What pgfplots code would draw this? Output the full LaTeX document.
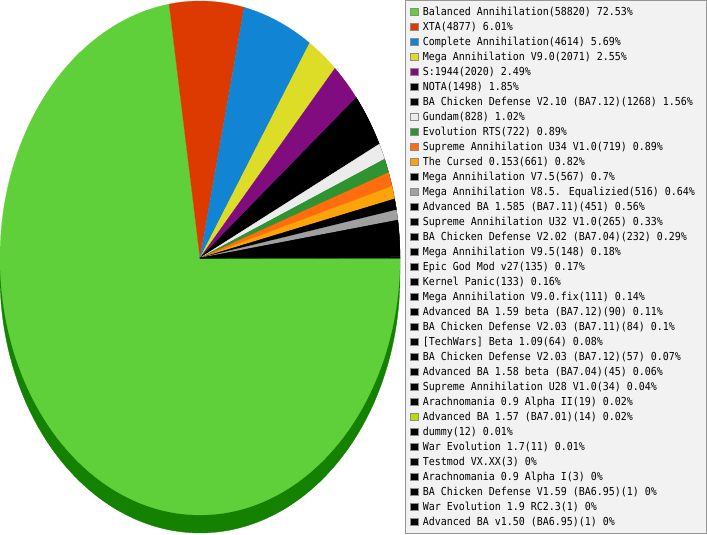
\documentclass[border=0pt]{standalone}
\usepackage{pgfplots}
\usepackage{pgfplotstable}
\pgfplotsset{compat=1.18}
\usepackage{fontspec}
\newfontfamily\legfont[FakeStretch=0.906]{DejaVu Sans Mono}

\definecolor{cGreen}{RGB}{96,208,58}
\definecolor{cRed}{RGB}{220,58,0}
\definecolor{cBlue}{RGB}{17,133,212}
\definecolor{cYellow}{RGB}{221,221,39}
\definecolor{cPurple}{RGB}{128,12,128}
\definecolor{cBlack}{RGB}{0,0,0}
\definecolor{cWhite}{RGB}{236,236,236}
\definecolor{cDGreen}{RGB}{46,148,49}
\definecolor{cOrange}{RGB}{255,109,15}
\definecolor{cAmber}{RGB}{251,163,10}
\definecolor{cGray}{RGB}{160,160,160}
\definecolor{cLime}{RGB}{180,224,0}
\definecolor{rim}{RGB}{20,130,0}
\definecolor{legbg}{RGB}{242,242,242}
\definecolor{legborder}{RGB}{150,150,150}

\pgfplotstableread[col sep=semicolon,row sep=\\]{
name;count;pct;col\\
Balanced Annihilation;58820;72.53;cGreen\\
XTA;4877;6.01;cRed\\
Complete Annihilation;4614;5.69;cBlue\\
Mega Annihilation V9.0;2071;2.55;cYellow\\
S:1944;2020;2.49;cPurple\\
NOTA;1498;1.85;cBlack\\
BA Chicken Defense V2.10 (BA7.12);1268;1.56;cBlack\\
Gundam;828;1.02;cWhite\\
Evolution RTS;722;0.89;cDGreen\\
Supreme Annihilation U34 V1.0;719;0.89;cOrange\\
The Cursed 0.153;661;0.82;cAmber\\
Mega Annihilation V7.5;567;0.7;cBlack\\
Mega Annihilation V8.5. Equalizied;516;0.64;cGray\\
Advanced BA 1.585 (BA7.11);451;0.56;cBlack\\
Supreme Annihilation U32 V1.0;265;0.33;cBlack\\
BA Chicken Defense V2.02 (BA7.04);232;0.29;cBlack\\
Mega Annihilation V9.5;148;0.18;cBlack\\
Epic God Mod v27;135;0.17;cBlack\\
Kernel Panic;133;0.16;cBlack\\
Mega Annihilation V9.0.fix;111;0.14;cBlack\\
Advanced BA 1.59 beta (BA7.12);90;0.11;cBlack\\
BA Chicken Defense V2.03 (BA7.11);84;0.1;cBlack\\
[TechWars] Beta 1.09;64;0.08;cBlack\\
BA Chicken Defense V2.03 (BA7.12);57;0.07;cBlack\\
Advanced BA 1.58 beta (BA7.04);45;0.06;cBlack\\
Supreme Annihilation U28 V1.0;34;0.04;cBlack\\
Arachnomania 0.9 Alpha II;19;0.02;cBlack\\
Advanced BA 1.57 (BA7.01);14;0.02;cLime\\
dummy;12;0.01;cBlack\\
War Evolution 1.7;11;0.01;cBlack\\
Testmod VX.XX;3;0;cBlack\\
Arachnomania 0.9 Alpha I;3;0;cBlack\\
BA Chicken Defense V1.59 (BA6.95);1;0;cBlack\\
War Evolution 1.9 RC2.3;1;0;cBlack\\
Advanced BA v1.50 (BA6.95);1;0;cBlack\\
}\piedata

\pgfplotstablegetrowsof{\piedata}
\pgfmathtruncatemacro\lastrow{\pgfplotsretval-1}
\def\tot{0}
\pgfplotsforeachungrouped \i in {0,...,\lastrow}{%
  \pgfplotstablegetelem{\i}{count}\of\piedata
  \edef\tot{\fpeval{\tot+\pgfplotsretval}}%
}
% start angle of the run of thin (mostly black) slices, from row 5 (NOTA) on
\def\cum{0}
\pgfplotsforeachungrouped \i in {0,...,4}{%
  \pgfplotstablegetelem{\i}{count}\of\piedata
  \edef\cum{\fpeval{\cum+\pgfplotsretval}}%
}
\edef\blkstart{\fpeval{round(-360*\cum/\tot,6)}}

\begin{document}
\begin{tikzpicture}
\path[use as bounding box] (0,0) rectangle (707bp,535bp);
\begin{axis}[
  at={(0,0)}, anchor=south west,
  scale only axis, width=400bp, height=535bp,
  xmin=-1, xmax=1, ymin=-1.07782, ymax=1.00389,
  hide axis, clip=false,
  legend cell align=left,
  legend image code/.code={\draw[#1,draw=black!45,line width=0.8bp] (0.4bp,-3.8bp) rectangle (7.6bp,3.4bp);},
  legend style={draw=none, fill=none, at={(rel axis cs:1.026,0.99159)}, anchor=north west,
    inner sep=0pt, outer sep=0pt, row sep=0pt, column sep=4.5bp,
    font=\legfont\fontsize{11bp}{15bp}\selectfont,
    nodes={inner sep=0pt, outer sep=0pt, text height=11.5bp, text depth=3.5bp}},
]
\draw[fill=legbg, draw=legborder, line width=1bp]
  (rel axis cs:1.01375,0.0028) rectangle (rel axis cs:1.76625,0.99907);
% 3D rim
\addplot[fill=rim, draw=rim, line width=0.3bp, domain=180:360, samples=150, forget plot]
  ({cos(x)},{sin(x)-0.07}) -- (1,0) -- (-1,0) -- cycle;
% dark underlay below the run of thin slices (avoids light seams)
\addplot[fill=black, draw=black, line width=0.25bp, domain=-360:\blkstart, samples=30, forget plot]
  ({cos(x)},{sin(x)}) -- (0,0) -- cycle;
\def\astart{0}
\pgfplotsforeachungrouped \i in {0,...,\lastrow}{%
  \pgfplotstablegetelem{\i}{count}\of\piedata \let\cnt\pgfplotsretval
  \pgfplotstablegetelem{\i}{name}\of\piedata \let\nm\pgfplotsretval
  \pgfplotstablegetelem{\i}{pct}\of\piedata \let\pc\pgfplotsretval
  \pgfplotstablegetelem{\i}{col}\of\piedata \let\cl\pgfplotsretval
  \edef\aend{\fpeval{round(\astart-360*\cnt/\tot,6)}}%
  \edef\ns{\fpeval{max(2,ceil(360*\cnt/\tot/2)+1)}}%
  \edef\doplot{\noexpand\addplot[fill=\cl, draw=\cl, line width=0.25bp, domain=\aend:\astart, samples=\ns]
    ({cos(x)},{sin(x)}) -- (0,0) -- cycle;
    \noexpand\addlegendentry{\nm(\cnt) \pc\noexpand\%}}%
  \doplot
  \let\astart\aend
}
\end{axis}
\end{tikzpicture}
\end{document}
